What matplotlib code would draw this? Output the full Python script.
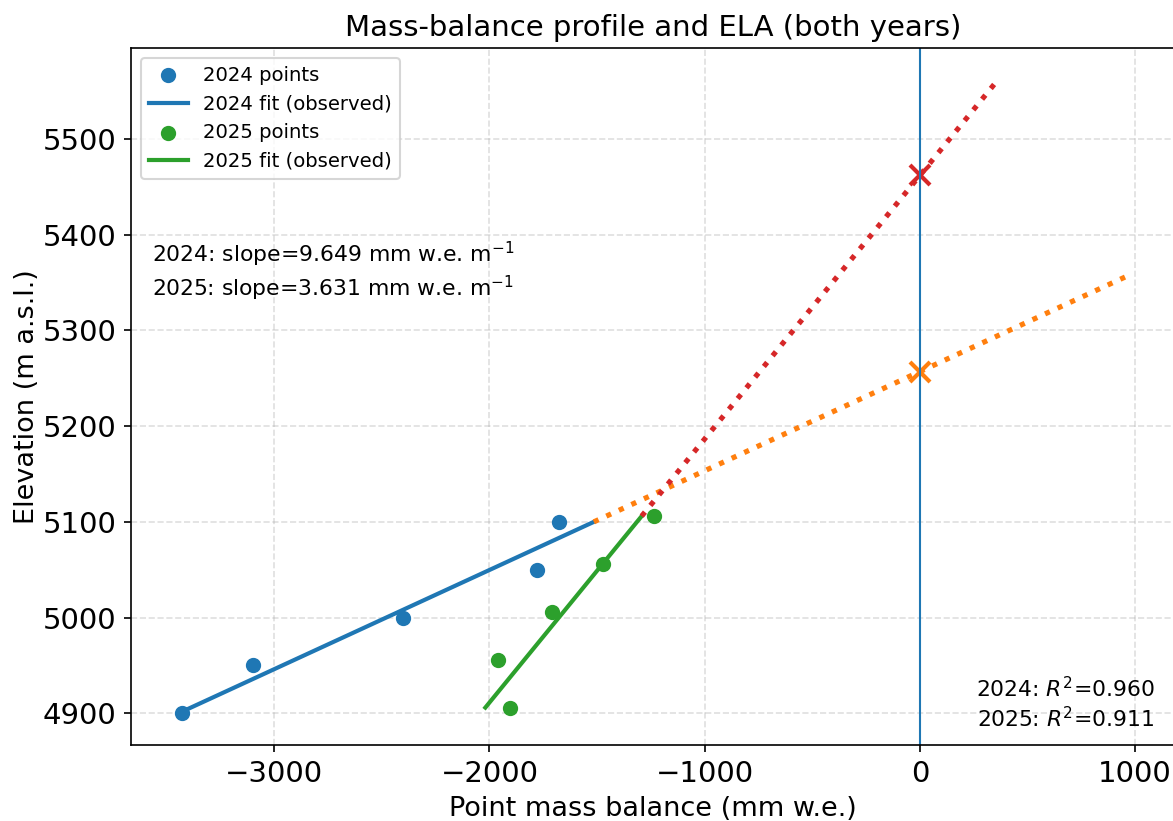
import numpy as np
import matplotlib
matplotlib.use('Agg')
import matplotlib.pyplot as plt

# Stake data: elevation (m a.s.l.) and point mass balance (mm w.e.)
elev_2024 = [4900, 4950, 5000, 5050, 5100]
bal_2024 = [-3430, -3100, -2400, -1780, -1675]
elev_2025 = [4906, 4956, 5006, 5056, 5106]
bal_2025 = [-1905, -1960, -1710, -1473, -1235]

# Regression results
slope_2024 = 9.649   # mm w.e. per m
slope_2025 = 3.631
ela_2024 = 5257      # m a.s.l. (B = 0)
ela_2025 = 5462
r2_2024 = 0.960
r2_2025 = 0.911
extrap_above_ela = 100  # extrapolate fit up to ELA + 100 m


def fit_line(slope, ela, z):
    z = np.asarray(z, dtype=float)
    return slope * (z - ela), z


fig = plt.figure(figsize=(1173 / 150, 821 / 150), dpi=150)
ax = fig.add_axes([131 / 1173, 76 / 821, 1044 / 1173, 697 / 821])

# Observed fits over the elevation range of the stakes
b24, z24 = fit_line(slope_2024, ela_2024, [min(elev_2024), max(elev_2024)])
b25, z25 = fit_line(slope_2025, ela_2025, [min(elev_2025), max(elev_2025)])

# Extrapolation from highest stake to above the ELA
b24e, z24e = fit_line(slope_2024, ela_2024, [max(elev_2024), ela_2024 + extrap_above_ela])
b25e, z25e = fit_line(slope_2025, ela_2025, [max(elev_2025), ela_2025 + extrap_above_ela])

ax.scatter(bal_2024, elev_2024, s=40, color='C0', label='2024 points', zorder=3)
ax.plot(b24, z24, color='C0', lw=2, label='2024 fit (observed)')
ax.scatter(bal_2025, elev_2025, s=40, color='C2', label='2025 points', zorder=3)
ax.plot(b25, z25, color='C2', lw=2, label='2025 fit (observed)')

ax.plot(b24e, z24e, color='C1', lw=2.5, linestyle=':')
ax.plot(b25e, z25e, color='C3', lw=2.5, linestyle=':')
ax.plot(0, ela_2024, 'x', color='C1', ms=10, mew=2)
ax.plot(0, ela_2025, 'x', color='C3', ms=10, mew=2)
ax.axvline(0, color='C0', lw=1)

ax.text(0.02, 0.725,
        f'2024: slope={slope_2024:.3f} mm w.e. m$^{{-1}}$\n'
        f'2025: slope={slope_2025:.3f} mm w.e. m$^{{-1}}$',
        transform=ax.transAxes, va='top', ha='left', fontsize=10.5)
ax.text(0.98, 0.02,
        f'2024: $R^2$={r2_2024:.3f}\n2025: $R^2$={r2_2025:.3f}',
        transform=ax.transAxes, va='bottom', ha='right', fontsize=10.5)

ax.set_xlabel('Point mass balance (mm w.e.)', fontsize=13)
ax.set_ylabel('Elevation (m a.s.l.)', fontsize=13, labelpad=1)
ax.set_title('Mass-balance profile and ELA (both years)', fontsize=14)
ax.tick_params(labelsize=14)
ax.set_yticks([4900, 5000, 5100, 5200, 5300, 5400, 5500])
ax.grid(True, linestyle='--', alpha=0.4)
ax.legend(loc='upper left', fontsize=9.4)

fig.savefig('out.png', dpi=150)
